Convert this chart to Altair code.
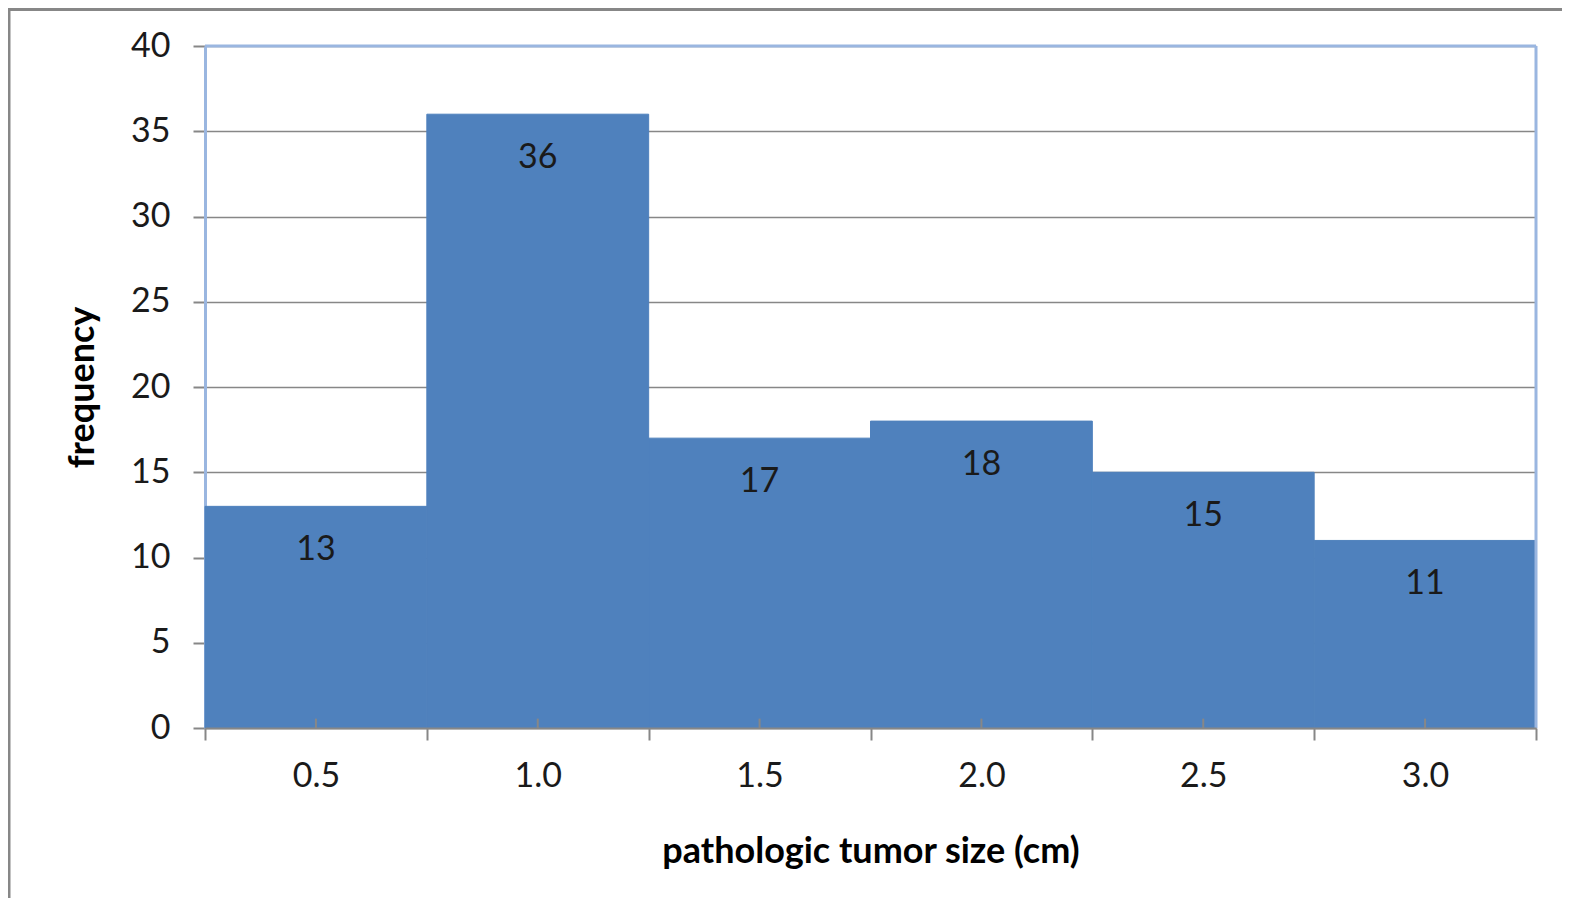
import altair as alt
import pandas as pd

# data
bin_centers = [0.5, 1.0, 1.5, 2.0, 2.5, 3.0]
frequency = [13, 36, 17, 18, 15, 11]
bin_half = 0.25
x_title = "pathologic tumor size (cm)"
y_title = "frequency"
y_ticks = [0, 5, 10, 15, 20, 25, 30, 35, 40]
x_tick_values = [0.25, 0.5, 0.75, 1.0, 1.25, 1.5, 1.75, 2.0, 2.25, 2.5, 2.75, 3.0, 3.25]

df = pd.DataFrame({
    "center": bin_centers,
    "start": [c - bin_half for c in bin_centers],
    "end": [c + bin_half for c in bin_centers],
    "freq": frequency,
})

W, H = 1331, 682
FONT = "Lato"
GREY = "#878787"
BLUE = "#9AB6E0"
BAR = "#4F81BD"

xscale = alt.Scale(domain=[0.25, 3.25], nice=False, zero=False, padding=0)
yscale = alt.Scale(domain=[0, 40], nice=False, padding=0)

center_test = "(datum.value*2)%1==0"

x_axis = alt.Axis(
    values=x_tick_values,
    labelExpr=f"{center_test} ? format(datum.value,'.1f') : ''",
    labelOverlap=False, labelFlush=False,
    labelFont=FONT, labelFontSize=34, labelColor="#1a1a1a",
    labelBaseline="middle", labelPadding=36,
    tickSize=12, tickWidth=2,
    tickColor={"condition": {"test": center_test, "value": "transparent"}, "value": GREY},
    domainColor=GREY, domainWidth=2,
    grid=False, zindex=1,
    title=x_title, titleFont=FONT, titleFontSize=36, titleFontWeight="bold",
    titleColor="#000000", titleY=123, titleBaseline="middle",
)

y_axis = alt.Axis(
    values=y_ticks,
    labelFont=FONT, labelFontSize=34, labelColor="#1a1a1a",
    labelBaseline="middle", labelPadding=23,
    tickSize=12, tickWidth=2, tickColor=GREY,
    domainColor=BLUE, domainWidth=3,
    grid=True, gridColor=GREY, gridWidth=1.5,
    title=y_title, titleFont=FONT, titleFontSize=36, titleFontWeight="bold",
    titleColor="#000000", titleX=-123, titleY=H / 2, titleBaseline="middle",
    titleAlign="center",
)

base = alt.Chart(df)

bars = base.mark_bar(color=BAR, stroke=BAR, strokeWidth=1).encode(
    x=alt.X("start:Q", scale=xscale, axis=x_axis),
    x2="end:Q",
    y=alt.Y("freq:Q", scale=yscale, axis=y_axis),
    y2=alt.datum(0),
)

labels = base.mark_text(font=FONT, fontSize=34, color="#1a1a1a", baseline="middle", dy=44).encode(
    x="center:Q", y="freq:Q", text="freq:Q"
)

inner_ticks = base.mark_rule(color=GREY, strokeWidth=2).encode(
    x="center:Q", y=alt.datum(0), y2=alt.datum(0.55)
)

one = alt.Chart(pd.DataFrame({"a": [0]}))
top_line = one.mark_rule(color=BLUE, strokeWidth=3).encode(
    x=alt.datum(0.25), x2=alt.datum(3.25), y=alt.datum(40)
)
right_line = one.mark_rule(color=BLUE, strokeWidth=3).encode(
    x=alt.datum(3.25), y=alt.datum(0), y2=alt.datum(40)
)
frame_left = one.mark_rule(color=GREY, strokeWidth=3).encode(
    x=alt.value(-196), y=alt.value(-37), y2=alt.value(H + 170)
)
frame_top = one.mark_rule(color=GREY, strokeWidth=3).encode(
    x=alt.value(-197.5), x2=alt.value(W + 26), y=alt.value(-36.5)
)

chart = alt.layer(
    bars, labels, inner_ticks, top_line, right_line, frame_left, frame_top
).properties(
    width=W, height=H,
    autosize=alt.AutoSizeParams(type="none"),
    padding={"left": 197, "top": 38, "right": 26, "bottom": 170},
).configure_view(stroke=None).configure(background="white")

chart.save("out.html", embed_options={"renderer": "svg", "actions": False})
